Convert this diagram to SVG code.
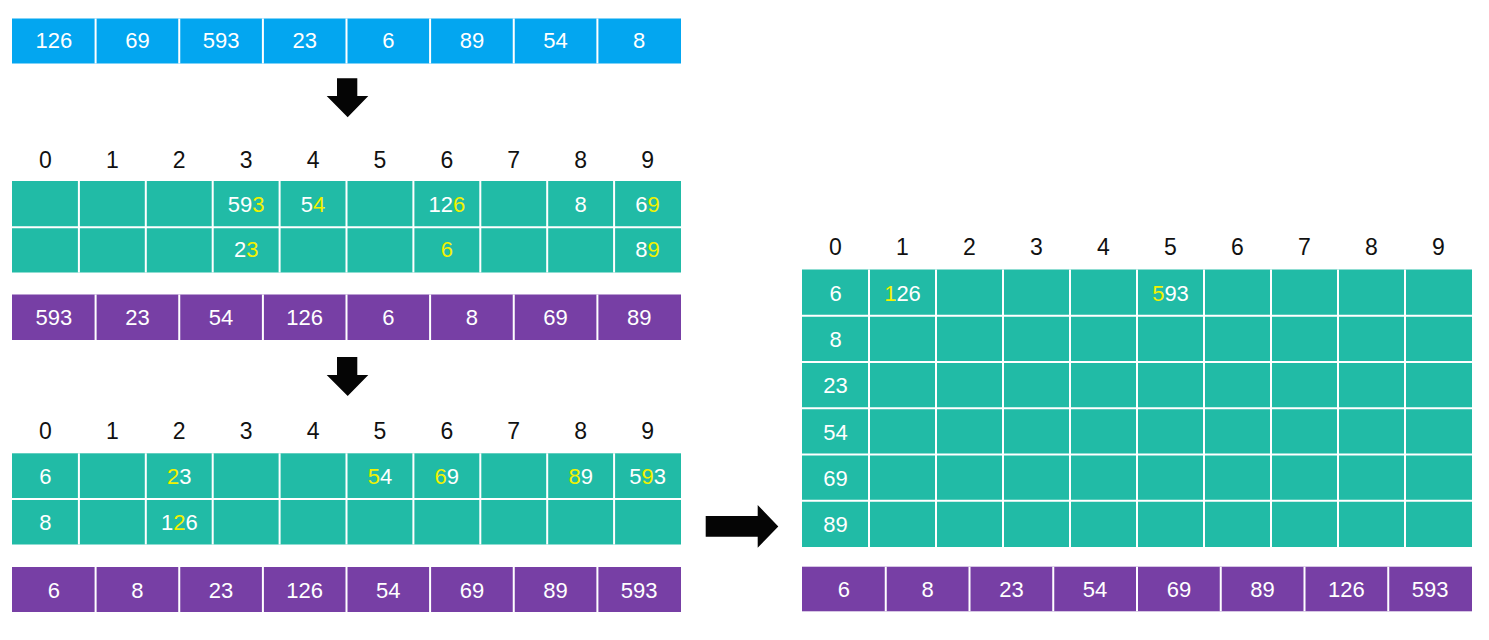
<svg xmlns="http://www.w3.org/2000/svg" width="1489" height="640" viewBox="0 0 1489 640">
<style>
.bg{fill:#ffffff}
.blue{fill:#03A6F0}
.teal{fill:#21BBA6}
.purple{fill:#773FA5}
.grid{stroke:#ffffff;stroke-width:2;fill:none}
.v{font-family:"Liberation Sans",Arial,sans-serif;font-size:22px;fill:#ffffff;text-anchor:middle}
.h{font-family:"Liberation Sans",Arial,sans-serif;font-size:23px;fill:#111111;text-anchor:middle}
.y{fill:#F2F200}
.arrow{fill:#050505}
</style>
<rect class="bg" x="0" y="0" width="1489" height="640"/>

<g id="input-row">
<rect class="blue" x="12" y="18.5" width="669" height="45"/>
<path class="grid" d="M95.6 18.5V63.5M179.25 18.5V63.5M262.9 18.5V63.5M346.5 18.5V63.5M430.1 18.5V63.5M513.75 18.5V63.5M597.4 18.5V63.5"/>
<text class="v" x="53.8" y="48">126</text>
<text class="v" x="137.4" y="48">69</text>
<text class="v" x="221.1" y="48">593</text>
<text class="v" x="304.7" y="48">23</text>
<text class="v" x="388.3" y="48">6</text>
<text class="v" x="471.9" y="48">89</text>
<text class="v" x="555.6" y="48">54</text>
<text class="v" x="639.2" y="48">8</text>
</g>

<g id="buckets-pass1">
<text class="h" x="45.45" y="167.5">0</text>
<text class="h" x="112.35" y="167.5">1</text>
<text class="h" x="179.25" y="167.5">2</text>
<text class="h" x="246.15" y="167.5">3</text>
<text class="h" x="313.05" y="167.5">4</text>
<text class="h" x="379.95" y="167.5">5</text>
<text class="h" x="446.85" y="167.5">6</text>
<text class="h" x="513.75" y="167.5">7</text>
<text class="h" x="580.65" y="167.5">8</text>
<text class="h" x="647.55" y="167.5">9</text>
<rect class="teal" x="12" y="181" width="669" height="91.5"/>
<path class="grid" d="M78.9 181V272.5M145.8 181V272.5M212.7 181V272.5M279.6 181V272.5M346.5 181V272.5M413.4 181V272.5M480.3 181V272.5M547.2 181V272.5M614.1 181V272.5M12 227.3H681"/>
<text class="v" x="246.15" y="211.5">59<tspan class="y">3</tspan></text>
<text class="v" x="313.05" y="211.5">5<tspan class="y">4</tspan></text>
<text class="v" x="446.85" y="211.5">12<tspan class="y">6</tspan></text>
<text class="v" x="580.65" y="211.5">8</text>
<text class="v" x="647.55" y="211.5">6<tspan class="y">9</tspan></text>
<text class="v" x="246.15" y="257">2<tspan class="y">3</tspan></text>
<text class="v" x="446.85" y="257"><tspan class="y">6</tspan></text>
<text class="v" x="647.55" y="257">8<tspan class="y">9</tspan></text>
</g>

<g id="output-pass1">
<rect class="purple" x="12" y="294.5" width="669" height="45.5"/>
<path class="grid" d="M95.6 294.5V340M179.25 294.5V340M262.9 294.5V340M346.5 294.5V340M430.1 294.5V340M513.75 294.5V340M597.4 294.5V340"/>
<text class="v" x="53.8" y="325">593</text>
<text class="v" x="137.4" y="325">23</text>
<text class="v" x="221.1" y="325">54</text>
<text class="v" x="304.7" y="325">126</text>
<text class="v" x="388.3" y="325">6</text>
<text class="v" x="471.9" y="325">8</text>
<text class="v" x="555.6" y="325">69</text>
<text class="v" x="639.2" y="325">89</text>
</g>

<g id="buckets-pass2">
<text class="h" x="45.45" y="438.5">0</text>
<text class="h" x="112.35" y="438.5">1</text>
<text class="h" x="179.25" y="438.5">2</text>
<text class="h" x="246.15" y="438.5">3</text>
<text class="h" x="313.05" y="438.5">4</text>
<text class="h" x="379.95" y="438.5">5</text>
<text class="h" x="446.85" y="438.5">6</text>
<text class="h" x="513.75" y="438.5">7</text>
<text class="h" x="580.65" y="438.5">8</text>
<text class="h" x="647.55" y="438.5">9</text>
<rect class="teal" x="12" y="453.3" width="669" height="91.2"/>
<path class="grid" d="M78.9 453.3V544.5M145.8 453.3V544.5M212.7 453.3V544.5M279.6 453.3V544.5M346.5 453.3V544.5M413.4 453.3V544.5M480.3 453.3V544.5M547.2 453.3V544.5M614.1 453.3V544.5M12 499H681"/>
<text class="v" x="45.45" y="484">6</text>
<text class="v" x="179.25" y="484"><tspan class="y">2</tspan>3</text>
<text class="v" x="379.95" y="484"><tspan class="y">5</tspan>4</text>
<text class="v" x="446.85" y="484"><tspan class="y">6</tspan>9</text>
<text class="v" x="580.65" y="484"><tspan class="y">8</tspan>9</text>
<text class="v" x="647.55" y="484">5<tspan class="y">9</tspan>3</text>
<text class="v" x="45.45" y="529.5">8</text>
<text class="v" x="179.25" y="529.5">1<tspan class="y">2</tspan>6</text>
</g>

<g id="output-pass2">
<rect class="purple" x="12" y="567" width="669" height="45"/>
<path class="grid" d="M95.6 567V612M179.25 567V612M262.9 567V612M346.5 567V612M430.1 567V612M513.75 567V612M597.4 567V612"/>
<text class="v" x="53.8" y="597.5">6</text>
<text class="v" x="137.4" y="597.5">8</text>
<text class="v" x="221.1" y="597.5">23</text>
<text class="v" x="304.7" y="597.5">126</text>
<text class="v" x="388.3" y="597.5">54</text>
<text class="v" x="471.9" y="597.5">69</text>
<text class="v" x="555.6" y="597.5">89</text>
<text class="v" x="639.2" y="597.5">593</text>
</g>

<g id="buckets-pass3">
<text class="h" x="835.5" y="255">0</text>
<text class="h" x="902.5" y="255">1</text>
<text class="h" x="969.5" y="255">2</text>
<text class="h" x="1036.5" y="255">3</text>
<text class="h" x="1103.5" y="255">4</text>
<text class="h" x="1170.5" y="255">5</text>
<text class="h" x="1237.5" y="255">6</text>
<text class="h" x="1304.5" y="255">7</text>
<text class="h" x="1371.5" y="255">8</text>
<text class="h" x="1438.5" y="255">9</text>
<rect class="teal" x="802" y="269.5" width="670" height="277.5"/>
<path class="grid" d="M869 269.5V547M936 269.5V547M1003 269.5V547M1070 269.5V547M1137 269.5V547M1204 269.5V547M1271 269.5V547M1338 269.5V547M1405 269.5V547M802 315.8H1472M802 362H1472M802 408.2H1472M802 454.5H1472M802 500.7H1472"/>
<text class="v" x="835.5" y="301">6</text>
<text class="v" x="835.5" y="347.2">8</text>
<text class="v" x="835.5" y="393.4">23</text>
<text class="v" x="835.5" y="439.5">54</text>
<text class="v" x="835.5" y="485.7">69</text>
<text class="v" x="835.5" y="531.8">89</text>
<text class="v" x="902.5" y="301"><tspan class="y">1</tspan>26</text>
<text class="v" x="1170.5" y="301"><tspan class="y">5</tspan>93</text>
</g>

<g id="output-pass3">
<rect class="purple" x="802" y="566.7" width="670" height="44.6"/>
<path class="grid" d="M885.75 566.7V611.3M969.5 566.7V611.3M1053.25 566.7V611.3M1137 566.7V611.3M1220.75 566.7V611.3M1304.5 566.7V611.3M1388.25 566.7V611.3"/>
<text class="v" x="843.9" y="597">6</text>
<text class="v" x="927.6" y="597">8</text>
<text class="v" x="1011.4" y="597">23</text>
<text class="v" x="1095.1" y="597">54</text>
<text class="v" x="1178.9" y="597">69</text>
<text class="v" x="1262.6" y="597">89</text>
<text class="v" x="1346.4" y="597">126</text>
<text class="v" x="1430.1" y="597">593</text>
</g>

<g id="connectors">
<polygon class="arrow" points="337,78.3 357.3,78.3 357.3,96 368.3,96 347.7,117.3 326.7,96 337,96"/>
<polygon class="arrow" points="337,357 357.3,357 357.3,375 368.3,375 347.7,396 326.7,375 337,375"/>
<polygon class="arrow" points="705.7,516 757.7,516 757.7,505 778.3,526.5 757.7,547.7 757.7,536.7 705.7,536.7"/>
</g>
</svg>
